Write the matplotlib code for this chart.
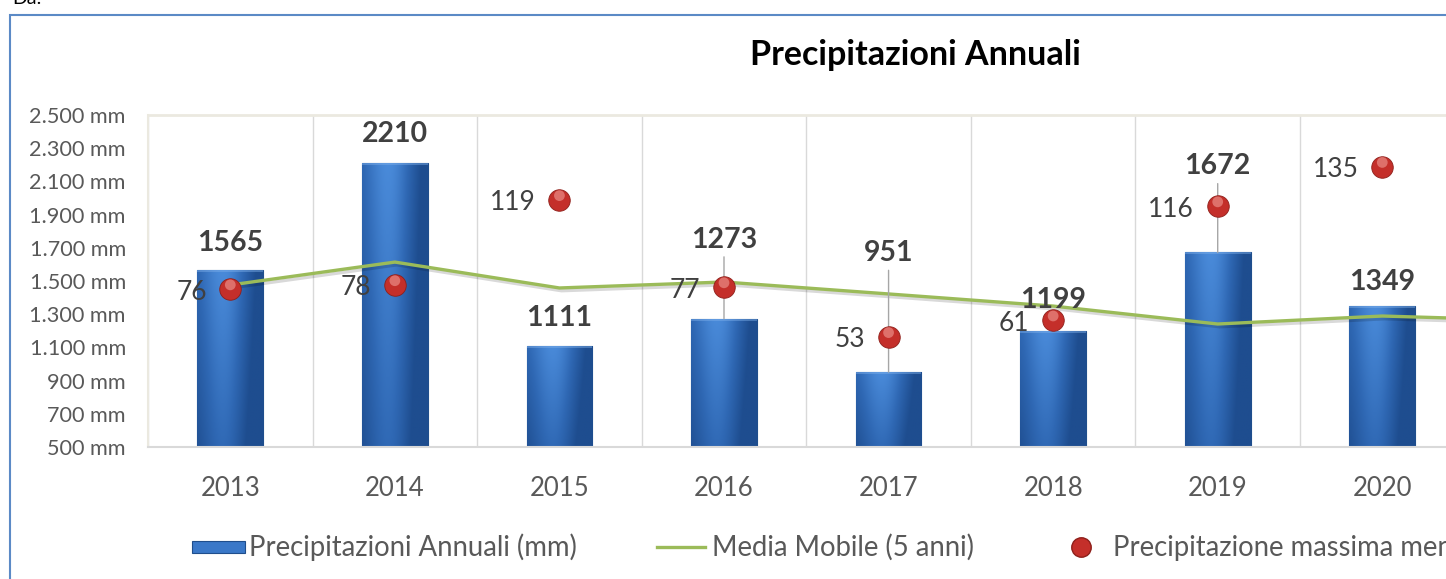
import numpy as np
import matplotlib
matplotlib.use("Agg")
import matplotlib.pyplot as plt
import matplotlib.patheffects as pe
from matplotlib.patches import Rectangle
from matplotlib.lines import Line2D
from matplotlib.transforms import offset_copy

plt.rcParams["font.family"] = ["Lato", "DejaVu Sans"]

# data
years = ["2013", "2014", "2015", "2016", "2017", "2018", "2019", "2020", "2021"]
annual_mm = [1565, 2210, 1111, 1273, 951, 1199, 1672, 1349]
moving_avg = [1476, 1614, 1458, 1494, 1422, 1349, 1241, 1289, 1260]
max_monthly = [76, 78, 119, 77, 53, 61, 116, 135]

# label placement (pixels above bar top) and which ones get a leader line
label_lift_px = [27, 29, 28, 79, 119, 31, 86, 24]
leader = [False, False, False, True, True, False, True, False]

W, H = 1446, 579
fig = plt.figure(figsize=(W / 100, H / 100), dpi=100)


def px(x, y):
    return x / W, 1 - y / H


slot = 164.57
left, top, bottom = 148, 115, 447
ax = fig.add_axes([left / W, 1 - bottom / H, len(years) * slot / W, (bottom - top) / H])
ax2 = ax.twinx()

x = np.arange(len(years))
xb = np.arange(len(annual_mm))

# bars with a simple shaded gradient
bars = ax.bar(xb, annual_mm, width=0.4, bottom=0, color="#3A78C8",
              edgecolor="#1F4E8C", linewidth=0.8, zorder=2)
gx = np.linspace(0, 1, 64)
hprof = 0.85 + 0.25 * np.exp(-((gx - 0.4) / 0.35) ** 2) - 0.2 * gx ** 4
grad = np.outer(np.linspace(1.0, 0.85, 64), hprof)
cmap = matplotlib.colors.LinearSegmentedColormap.from_list(
    "bar", ["#1E4D8F", "#2F68B4", "#4A8BDA"])
for b in bars:
    x0, w, h = b.get_x(), b.get_width(), b.get_height()
    im = ax.imshow(grad, extent=(x0, x0 + w, 500, h), aspect="auto",
                   cmap=cmap, vmin=0.75, vmax=1.1, zorder=2.1, origin="upper")
    im.set_clip_path(b)
    # light bevel at the top
    ax.add_patch(Rectangle((x0, h - 12), w, 12, facecolor="#7FB0EA",
                           alpha=0.45, edgecolor="none", zorder=2.2))

# moving average line
ax.plot(x, moving_avg, color="#9BBB59", lw=2.4, zorder=3,
        path_effects=[pe.SimpleLineShadow(offset=(1.5, -2), alpha=0.15),
                      pe.Normal()])

# bar value labels
for i, v in enumerate(annual_mm):
    kw = {}
    if leader[i]:
        kw["arrowprops"] = dict(arrowstyle="-", color="#A6A6A6", lw=1,
                                shrinkA=1, shrinkB=0)
    ax.annotate(str(v), xy=(i, v), xytext=(0, label_lift_px[i] * 0.72),
                textcoords="offset points", ha="center", va="center",
                fontsize=20.5, fontweight="bold", color="#404040", zorder=5, **kw)

ax.set_xlim(-0.5, len(years) - 0.5)
ax.set_ylim(500, 2500)
ax.set_yticks(range(500, 2501, 200))
ax.set_yticklabels([f"{t:,} mm".replace(",", ".") for t in range(500, 2501, 200)])
ax.set_xticks(xb)
ax.set_xticklabels(years[:len(annual_mm)])
ax.tick_params(axis="y", length=0, pad=16, labelsize=15.6, labelcolor="#595959")
ax.tick_params(axis="x", length=0, pad=21, labelsize=18.5, labelcolor="#595959")
for xv in np.arange(-0.5, len(years), 1):
    ax.axvline(xv, color="#D9D9D9", lw=1, zorder=0)
ax.spines["top"].set_color("#EBE9E0")
ax.spines["top"].set_linewidth(2)
ax.spines["left"].set_color("#EBE9E0")
ax.spines["left"].set_linewidth(1.5)
ax.spines["bottom"].set_color("#D9D9D9")
ax.spines["bottom"].set_linewidth(1.5)
ax.spines["right"].set_visible(False)

# max monthly precipitation on a hidden secondary axis
ax2.set_ylim(0, 160)
ax2.set_yticks([])
for s in ax2.spines.values():
    s.set_visible(False)
ax2.scatter(xb, max_monthly, s=240, color="#C42F2A", edgecolors="#8E1F1A",
            linewidths=0.6, zorder=6)
hl = offset_copy(ax2.transData, fig=fig, x=0, y=3.2, units="points")
ax2.scatter(xb, max_monthly, s=60, color="#F4A6A0", alpha=0.55,
            edgecolors="none", transform=hl, zorder=7)
for i, v in enumerate(max_monthly):
    ax2.annotate(str(v), xy=(i, v), xytext=(-17, -2), textcoords="offset points",
                 ha="right", va="center", fontsize=19, color="#404040", zorder=8)

# title and frame
fig.text(*px(915, 55), "Precipitazioni Annuali", ha="center", va="center",
         fontsize=24.5, fontweight="bold", color="#000000")
fig.patches.append(Rectangle(px(10, 620), 2000 / W, 605 / H, fill=False,
                             edgecolor="#5B8AC6", lw=1.5,
                             transform=fig.transFigure, figure=fig))
fig.text(*px(12, 4), "Da:", ha="left", va="baseline", fontsize=14, color="#000000")

# legend drawn by hand
ly = 547
fig.patches.append(Rectangle(px(192, ly + 6), 53 / W, 12 / H, facecolor="#3A78C8",
                             edgecolor="#1F4E8C", lw=0.8,
                             transform=fig.transFigure, figure=fig))
fig.text(*px(249, ly), "Precipitazioni Annuali (mm)", ha="left", va="center",
         fontsize=19.8, color="#595959")
lx0, ly0 = px(657, ly)
lx1, _ = px(705, ly)
fig.lines.append(Line2D([lx0, lx1], [ly0, ly0], color="#9BBB59", lw=2.4,
                        transform=fig.transFigure, figure=fig))
fig.text(*px(712, ly), "Media Mobile (5 anni)", ha="left", va="center",
         fontsize=19.8, color="#595959")
fig.lines.append(Line2D([px(1081, ly)[0]], [ly0], marker="o", markersize=14,
                        color="#C42F2A", markeredgecolor="#8E1F1A", lw=0,
                        transform=fig.transFigure, figure=fig))
fig.text(*px(1113, ly), "Precipitazione massima mensile (mm)", ha="left",
         va="center", fontsize=19.8, color="#595959")

fig.savefig("out.png", dpi=100)
